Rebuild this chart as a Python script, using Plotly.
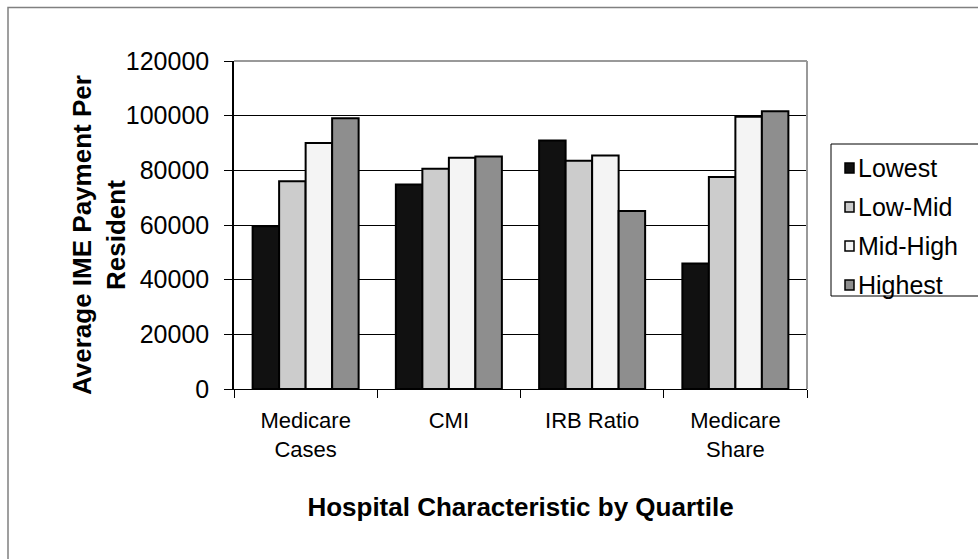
import plotly.graph_objects as go

# Hospital characteristics grouped by quartile
categories = ["Medicare<br>Cases", "CMI", "IRB Ratio", "Medicare<br>Share"]
quartiles = ["Lowest", "Low-Mid", "Mid-High", "Highest"]

lowest = [59500, 74800, 90900, 45900]
low_mid = [76000, 80600, 83500, 77600]
mid_high = [90000, 84600, 85400, 99600]
highest = [99100, 85100, 65100, 101600]

series = [lowest, low_mid, mid_high, highest]
colors = ["#111111", "#cccccc", "#f4f4f4", "#8e8e8e"]

y_ticks = [0, 20000, 40000, 60000, 80000, 100000, 120000]

FONT = "Liberation Sans, Arial, sans-serif"

# plot-area geometry in pixels
W, H = 978, 559
PL, PR, PT, PB = 234, 807, 61, 389


def px(x):
    return (x - PL) / (PR - PL)


def py(y):
    return (PB - y) / (PB - PT)


fig = go.Figure()
for name, vals, col in zip(quartiles, series, colors):
    fig.add_trace(go.Bar(
        x=categories, y=vals, name=name, showlegend=False,
        marker=dict(color=col, line=dict(color="#000000", width=2)),
    ))

fig.update_layout(
    width=W, height=H,
    margin=dict(l=PL, r=W - PR, t=PT, b=H - PB),
    paper_bgcolor="white", plot_bgcolor="white",
    barmode="group", bargap=0.26, bargroupgap=0,
    font=dict(family=FONT, size=22, color="#000000"),
    xaxis=dict(
        type="category", tickson="boundaries",
        ticks="outside", ticklen=8, tickcolor="#000000",
        ticklabelstandoff=12,
        showline=True, linecolor="#000000", linewidth=1,
        showgrid=False,
        tickfont=dict(family=FONT, size=22),
        title=dict(text="<b>Hospital Characteristic by Quartile</b>",
                   font=dict(family=FONT, size=26), standoff=36),
    ),
    yaxis=dict(
        range=[0, 120000], tickvals=y_ticks,
        ticktext=[str(v) for v in y_ticks],
        ticks="outside", ticklen=8, tickcolor="#000000",
        ticklabelstandoff=10,
        showline=True, linecolor="#000000", linewidth=1.5,
        showgrid=True, gridcolor="#000000", gridwidth=1,
        zeroline=False,
        tickfont=dict(family=FONT, size=25),
    ),
)

# y-axis title, rotated, set close to the tick labels
fig.add_annotation(xref="paper", yref="paper", x=px(99), y=py(235),
                   xanchor="center", yanchor="middle", showarrow=False,
                   textangle=-90,
                   text="<b>Average IME Payment Per<br>Resident</b>",
                   font=dict(family=FONT, size=26))

# gray frame on the top and right of the plot area
fig.add_shape(type="line", xref="paper", yref="paper", x0=0, x1=1, y0=1, y1=1,
              line=dict(color="#999999", width=2))
fig.add_shape(type="line", xref="paper", yref="paper", x0=1, x1=1, y0=0, y1=1,
              line=dict(color="#999999", width=2))

# outer chart border
fig.add_shape(type="rect", xref="paper", yref="paper",
              x0=px(8), x1=px(1040), y0=py(620), y1=py(7.5),
              line=dict(color="#808080", width=1.5), layer="below")

# legend box with square swatches
fig.add_shape(type="rect", xref="paper", yref="paper",
              x0=px(831), x1=px(1040), y0=py(296), y1=py(144),
              line=dict(color="#000000", width=1), fillcolor="white")
row_y = [168, 207, 246, 285]
for name, col, yc in zip(quartiles, colors, row_y):
    fig.add_shape(type="rect", xref="paper", yref="paper",
                  x0=px(845), x1=px(854), y0=py(yc + 5), y1=py(yc - 5),
                  line=dict(color="#000000", width=1.5), fillcolor=col)
    fig.add_annotation(xref="paper", yref="paper", x=px(856), y=py(yc),
                       xanchor="left", yanchor="middle", showarrow=False,
                       text=name, font=dict(family=FONT, size=25))

fig.write_html("out.html")
